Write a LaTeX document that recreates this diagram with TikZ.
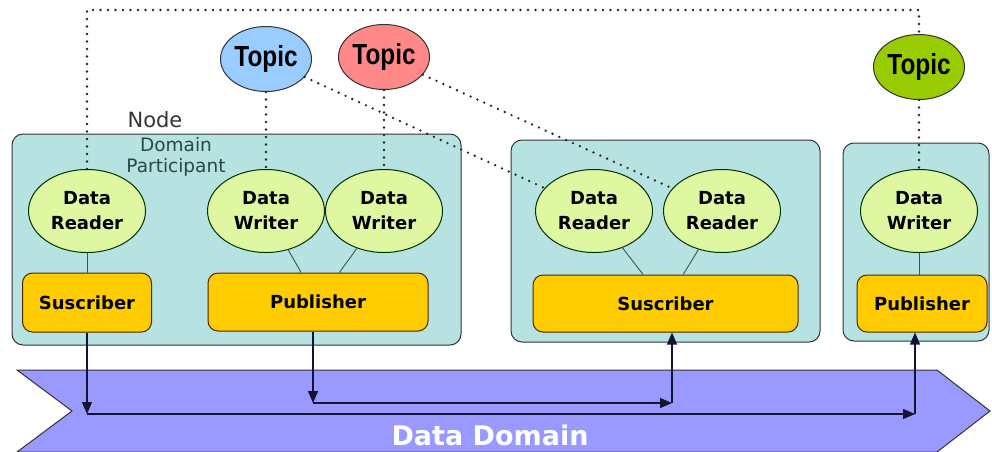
\documentclass[tikz,border=0pt]{standalone}
\usepackage{fontspec}
\setmainfont{DejaVu Sans}
\newfontfamily\topicfont{Liberation Sans}
\usetikzlibrary{shapes.geometric,arrows.meta}
\definecolor{contfill}{RGB}{183,226,226}
\definecolor{ellfill}{RGB}{222,247,160}
\definecolor{boxfill}{RGB}{255,204,0}
\definecolor{topblue}{RGB}{153,204,255}
\definecolor{topred}{RGB}{255,136,136}
\definecolor{topgreen}{RGB}{153,204,0}
\definecolor{domfill}{RGB}{153,153,255}
\definecolor{navy}{RGB}{20,20,50}
\definecolor{labgrey}{RGB}{51,51,51}
\definecolor{labteal}{RGB}{40,72,72}
\definecolor{linkgrey}{RGB}{60,85,85}
\begin{document}
\begin{tikzpicture}[x=1pt,y=-1pt,
  container/.style={draw=black!80, fill=contfill, rounded corners=11pt, line width=1pt, inner sep=0pt, outer sep=0pt, anchor=north west},
  ent/.style={ellipse, draw=black!80!green, fill=ellfill, line width=1pt, minimum width=117pt, minimum height=83pt, inner sep=0pt, align=center, font=\fontsize{18}{25}\selectfont\bfseries},
  gbox/.style={draw=black!70!orange, fill=boxfill, rounded corners=10pt, line width=1pt, inner sep=0pt, font=\fontsize{18}{22}\selectfont\bfseries},
  topic/.style={ellipse, draw=black!80, line width=1pt, minimum width=91pt, minimum height=65pt, inner sep=0pt, font=\topicfont\fontsize{29}{30}\selectfont\bfseries},
  dots/.style={draw=black!85, line width=2.6pt, dash pattern=on 0pt off 7.5pt, line cap=round},
  link/.style={draw=linkgrey, line width=0.9pt},
  arr/.style={draw=navy, line width=1.1pt, -{Triangle[length=12pt,width=10pt]}},
]
\useasboundingbox (0,0) rectangle (992,451);

% Data Domain band
\filldraw[fill=domfill, draw=black!80, line width=1pt]
  (17,370) -- (937,370) -- (990,411) -- (937,452) -- (17,452) -- (72,411) -- cycle;
\node[anchor=base, text=white, font=\fontsize{27}{27}\selectfont\bfseries] (dd) at (490,445) {Data Domain};

% containers
\node[container, minimum width=449pt, minimum height=211pt] (c1) at (12,134) {};
\node[container, minimum width=309pt, minimum height=202pt] (c2) at (511,140) {};
\node[container, minimum width=146pt, minimum height=198pt] (c3) at (843,143) {};

% labels
\node[anchor=base, text=labgrey, font=\fontsize{21}{21}\selectfont] (lnode) at (155,127) {Node};
\node[anchor=base, text=labteal, font=\fontsize{18.5}{18.5}\selectfont] (ldom) at (176,151) {Domain};
\node[anchor=base, text=labteal, font=\fontsize{18.5}{18.5}\selectfont] (lpart) at (176,172) {Participant};

% topics
\node[topic, fill=topblue] (t1) at (266,59) {\scalebox{0.84}[1]{Topic}};
\node[topic, fill=topred] (t2) at (384,57) {\scalebox{0.84}[1]{Topic}};
\node[topic, fill=topgreen] (t3) at (919,67) {\scalebox{0.84}[1]{Topic}};

% entities
\node[ent] (dr1) at (87,211) {Data\\Reader};
\node[ent] (dw1) at (266,211) {Data\\Writer};
\node[ent] (dw2) at (384,211) {Data\\Writer};
\node[ent] (dr2) at (594,211) {Data\\Reader};
\node[ent] (dr3) at (722,211) {Data\\Reader};
\node[ent] (dw3) at (919,211) {Data\\Writer};

% pub/sub boxes
\node[gbox, minimum width=129pt, minimum height=59pt] (sub1) at (87,302.5) {Suscriber};
\node[gbox, minimum width=220pt, minimum height=58pt] (pub1) at (318,302) {Publisher};
\node[gbox, minimum width=265pt, minimum height=57pt] (sub2) at (665.5,303.5) {Suscriber};
\node[gbox, minimum width=130pt, minimum height=57pt] (pub2) at (922,303.5) {Publisher};

% dotted topic links
\coordinate (topL) at (87,10);
\coordinate (topR) at (919,10);
\draw[dots] (dr1.north) -- (topL) -- (topR) -- (t3.north);
\draw[dots] (t1.south) -- (dw1.north);
\draw[dots] (t2.south) -- (dw2.north);
\draw[dots] (t3.south) -- (dw3.north);
\draw[dots] (t1) -- (dr2);
\draw[dots] (t2) -- (dr3);

% entity to box links
\draw[link] (dr1) -- (sub1);
\draw[link] (dw1) -- (pub1);
\draw[link] (dw2) -- (pub1);
\draw[link] (dr2) -- (sub2);
\draw[link] (dr3) -- (sub2);
\draw[link] (dw3.south) -- (dw3.south |- pub2.north);

% data flow arrows
\coordinate (a1) at (87,414);
\coordinate (a2) at (915,414);
\coordinate (b1) at (313,403);
\coordinate (b2) at (672,403);
\draw[arr] (sub1.south) -- (a1);
\draw[arr] (a1) -- (a2);
\draw[arr] (a2) -- (a2 |- pub2.south);
\draw[arr] (b1 |- pub1.south) -- (b1);
\draw[arr] (b1) -- (b2);
\draw[arr] (b2) -- (b2 |- sub2.south);
\end{tikzpicture}
\end{document}
